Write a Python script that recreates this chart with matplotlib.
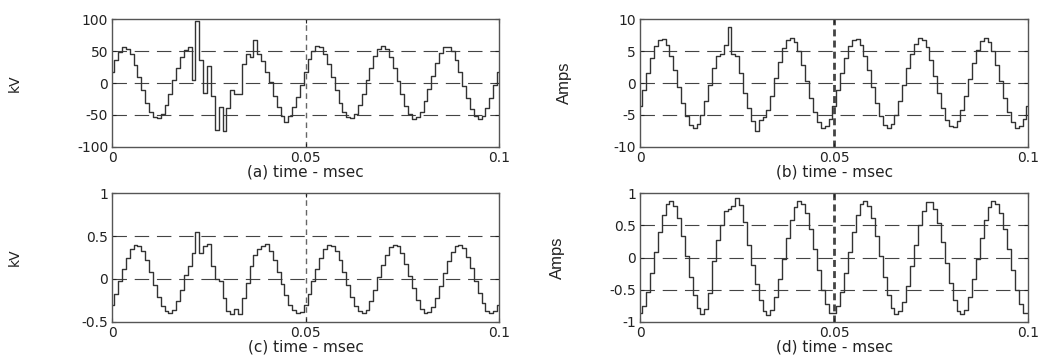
import numpy as np
import matplotlib
matplotlib.use("Agg")
import matplotlib.pyplot as plt

plt.rcParams['font.family'] = ['DejaVu Sans']
plt.rcParams['axes.unicode_minus'] = False

# sample spacing of the recorded waveforms (time axis units as labelled)
dt = 0.001

# (a) voltage, kV
va = [18, 36, 49, 56, 54, 45, 29, 10, -11, -31, -46, -54, -55, -49, -35, -17, 4, 24, 41,
      52, 56, 5, 97, 36, -16, 26, -21, -73, -37, -76, -40, -11, -17, -17, 30, 46, 41, 67, 46,
      35, 18, 2, -20, -38, -52, -62, -52, -38, -22, -3,
      18, 37, 50, 58, 56, 46, 30, 10, -11, -31, -46, -54, -55, -49, -35, -17, 4, 24, 42, 54,
      58, 54, 41, 23, 3, -18, -36, -49, -56, -54, -45, -29, -10, 11, 31, 47, 56, 57, 50, 36,
      17, -4, -24, -41, -52, -56, -52, -40, -23, -3, 18]

# (b) current, Amps
ib = [-3.6, -1.1, 1.5, 3.9, 5.8, 6.8, 6.9, 6.0, 4.3, 2.0, -0.6, -3.1, -5.2, -6.6, -7.0, -6.4,
      -5.0, -2.8, -0.3,
      2.3, 4.2, 4.6, 6.0, 8.8, 4.6, 4.2, 1.5, -1.5, -4.0, -6.0, -7.6, -5.8, -5.3, -4.3, -2.0,
      0.8, 3.3, 5.5, 6.8, 7.0, 6.4, 5.0, 2.8, 0.3, -2.3, -4.6, -6.2, -7.0, -6.7, -5.6,
      -3.6, -1.1, 1.5, 3.9, 5.8, 6.8, 6.9, 6.0, 4.3, 2.0, -0.6, -3.1, -5.2, -6.6, -7.0, -6.4,
      -5.0, -2.8, -0.3, 2.3, 4.6, 6.2, 7.0, 6.7, 5.6, 3.6, 1.1, -1.5, -3.9, -5.8, -6.8, -6.9,
      -6.0, -4.3, -2.0, 0.6, 3.1, 5.2, 6.6, 7.0, 6.4, 5.0, 2.8, 0.3, -2.3, -4.6, -6.2, -7.0,
      -6.7, -5.6, -3.6]

# (c) voltage, kV
vc = [-0.30, -0.18, -0.03, 0.11, 0.25, 0.35, 0.40, 0.39, 0.33, 0.22, 0.08, -0.07, -0.21,
      -0.32, -0.38, -0.40, -0.36, -0.26, -0.13,
      0.05, 0.15, 0.30, 0.55, 0.30, 0.38, 0.41, 0.15, 0.0, -0.03, -0.22, -0.37, -0.41, -0.35,
      -0.41, -0.22, -0.05, 0.15, 0.28, 0.35, 0.38, 0.41, 0.33, 0.22, 0.08, -0.06, -0.19,
      -0.30, -0.36, -0.40, -0.39,
      -0.30, -0.18, -0.03, 0.11, 0.25, 0.35, 0.40, 0.39, 0.33, 0.22, 0.08, -0.07, -0.21,
      -0.32, -0.38, -0.40, -0.36, -0.26, -0.13, 0.02, 0.16, 0.28, 0.37, 0.40, 0.38, 0.30,
      0.18, 0.03, -0.11, -0.25, -0.35, -0.40, -0.39, -0.33, -0.22, -0.08, 0.07, 0.21, 0.32,
      0.38, 0.40, 0.36, 0.26, 0.13, -0.02, -0.16, -0.28, -0.37, -0.40, -0.38, -0.30]

# (d) current, Amps
id_ = [-0.87, -0.75, -0.53, -0.24, 0.09, 0.40, 0.66, 0.83, 0.88, 0.81, 0.62, 0.34, 0.02,
       -0.30, -0.59, -0.79, -0.88, -0.80, -0.55,
       -0.05, 0.28, 0.50, 0.72, 0.76, 0.80, 0.92, 0.82, 0.55, 0.20, -0.12, -0.42, -0.66,
       -0.83, -0.90, -0.81, -0.62, -0.34, -0.02, 0.30, 0.59, 0.79, 0.88, 0.84, 0.69, 0.44,
       0.13, -0.20, -0.50, -0.73, -0.86,
       -0.87, -0.75, -0.53, -0.24, 0.09, 0.40, 0.66, 0.83, 0.88, 0.81, 0.62, 0.34, 0.02,
       -0.30, -0.59, -0.79, -0.88, -0.84, -0.69, -0.44, -0.13, 0.20, 0.50, 0.73, 0.86, 0.87,
       0.75, 0.53, 0.24, -0.09, -0.40, -0.66, -0.83, -0.88, -0.81, -0.62, -0.34, -0.02, 0.30,
       0.59, 0.79, 0.88, 0.84, 0.69, 0.44, 0.13, -0.20, -0.50, -0.73, -0.86, -0.87]

xticks = [0, 0.05, 0.1]
xtick_labels = ['0', '0.05', '0.1']

panels = [
    # data, ylabel, yticks, ytick labels, xlabel
    (va, 'kV', [-100, -50, 0, 50, 100], ['-100', '-50', '0', '50', '100'], '(a) time - msec'),
    (ib, 'Amps', [-10, -5, 0, 5, 10], ['-10', '-5', '0', '5', '10'], '(b) time - msec'),
    (vc, 'kV', [-0.5, 0, 0.5, 1], ['-0.5', '0', '0.5', '1'], '(c) time - msec'),
    (id_, 'Amps', [-1, -0.5, 0, 0.5, 1], ['-1', '-0.5', '0', '0.5', '1'], '(d) time - msec'),
]

# axes boxes in figure fractions
boxes = [
    [0.1078, 0.5879, 0.3711, 0.3579],
    [0.6145, 0.5879, 0.3724, 0.3579],
    [0.1078, 0.0963, 0.3711, 0.3607],
    [0.6145, 0.0963, 0.3724, 0.3607],
]
label_x = [-0.233, -0.176, -0.233, -0.194]

fig = plt.figure(figsize=(10.42, 3.56), dpi=100)

for i, (y, ylab, yt, ytl, xlab) in enumerate(panels):
    ax = fig.add_axes(boxes[i])
    t = np.arange(len(y)) * dt
    ax.plot(t, y, drawstyle='steps-mid', color='#333333', lw=1.0)
    ax.set_xlim(0, 0.1)
    ax.set_ylim(yt[0], yt[-1])
    ax.set_xticks(xticks)
    ax.set_xticklabels(xtick_labels)
    ax.set_yticks(yt)
    ax.set_yticklabels(ytl)

    # dashed grid: horizontal long dashes, vertical short dashes
    for v in yt[1:-1]:
        ax.axhline(v, color='#444444', lw=0.8, ls=(0, (13, 7)), zorder=0)
    if i % 2 == 0:
        ax.axvline(0.05, color='#666666', lw=1.0, ls=(0, (4, 3)), zorder=0)
    else:
        ax.axvline(0.05, color='#444444', lw=2.0, ls=(0, (2.5, 1.5)), zorder=0)

    for s in ax.spines.values():
        s.set_color('#555555')
        s.set_linewidth(1.0)
    ax.tick_params(direction='in', length=3, pad=3, labelsize=10,
                   colors='#222222', top=True, right=True)

    ax.set_xlabel(xlab, fontsize=11, labelpad=0, color='#222222')
    if ylab == 'Amps':
        ax.set_ylabel(ylab, fontsize=12, color='#222222',
                      family=['Liberation Sans Narrow', 'Liberation Sans', 'DejaVu Sans'])
    else:
        ax.set_ylabel(ylab, fontsize=10, color='#222222')
    ax.yaxis.set_label_coords(label_x[i], 0.5)

fig.savefig('out.png', dpi=100)
